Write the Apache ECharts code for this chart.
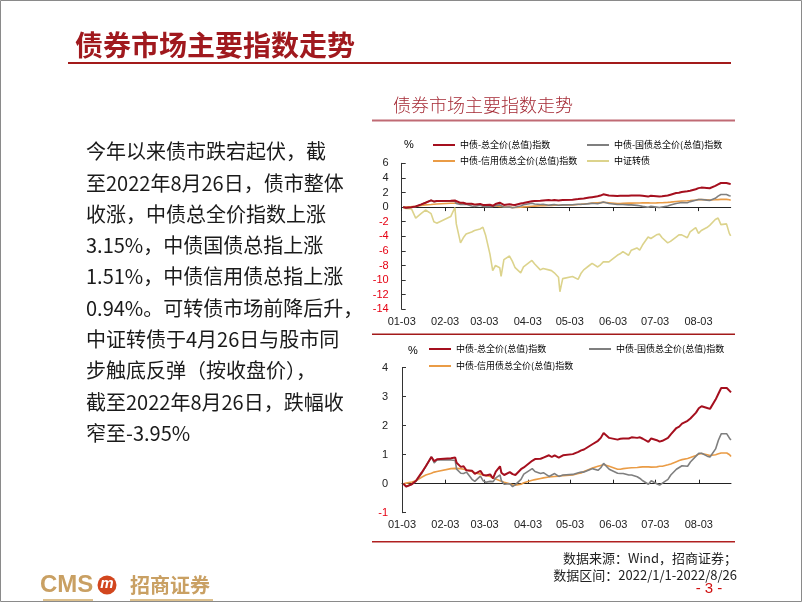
<!DOCTYPE html>
<html><head><meta charset="utf-8">
<script src="https://cdn.jsdelivr.net/npm/echarts@6/dist/echarts.min.js"></script>
<style>html,body{margin:0;padding:0;background:#fff}#c{width:802px;height:602px}</style>
</head><body><div id="c"></div>
<script>
// ---------- data ----------
const dates = [
 '01-04','01-06','01-10','01-13','01-17','01-20','01-24','01-26','01-28',
 '02-07','02-10','02-11','02-14','02-16','02-18','02-22','02-24','02-28',
 '03-02','03-04','03-07','03-09','03-11','03-14','03-15','03-17','03-21','03-23','03-25','03-29','03-31',
 '04-06','04-08','04-12','04-14','04-18','04-20','04-22','04-25','04-26','04-28',
 '05-05','05-09','05-11','05-13','05-17','05-19','05-23','05-25','05-27','05-31',
 '06-06','06-08','06-10','06-14','06-16','06-20','06-22','06-24','06-28','06-30',
 '07-04','07-06','07-08','07-12','07-14','07-18','07-20','07-22','07-26','07-28',
 '08-01','08-03','08-05','08-09','08-11','08-15','08-17','08-19','08-23','08-25','08-26'
];
// 中债-总全价(总值)指数
const totalIdx = [
 0.0,-0.1,-0.02,0.1,0.38,0.6,0.92,0.78,0.84,
 0.88,0.9,0.72,0.58,0.6,0.46,0.45,0.34,0.44,
 0.3,0.28,0.32,0.18,0.42,0.6,0.38,0.3,0.4,0.33,0.3,0.5,0.56,
 0.79,0.85,0.86,0.9,0.98,0.92,0.98,0.9,0.92,0.98,
 1.02,1.1,1.15,1.18,1.3,1.36,1.48,1.58,1.75,1.58,
 1.52,1.55,1.56,1.56,1.6,1.58,1.6,1.55,1.44,1.56,
 1.5,1.45,1.48,1.58,1.7,1.92,1.97,2.07,2.17,2.25,
 2.45,2.6,2.67,2.61,2.58,2.9,3.1,3.3,3.3,3.2,3.15
];
// 中债-国债总全价(总值)指数
const govIdx = [
 0.0,-0.1,-0.02,0.08,0.35,0.6,0.93,0.72,0.82,
 0.82,0.8,0.5,0.36,0.35,0.4,0.15,0.08,0.26,
 0.1,0.05,0.08,0.07,0.2,0.3,0.1,-0.02,0.0,-0.1,-0.03,0.15,0.33,
 0.52,0.42,0.35,0.38,0.25,0.3,0.35,0.25,0.24,0.3,
 0.32,0.38,0.4,0.4,0.48,0.52,0.46,0.55,0.7,0.5,
 0.36,0.35,0.35,0.3,0.3,0.24,0.18,0.1,-0.02,0.1,
 0.0,-0.05,0.02,0.15,0.3,0.5,0.56,0.62,0.6,0.75,
 0.95,1.05,1.05,0.95,0.92,1.2,1.5,1.72,1.72,1.56,1.51
];
// 中债-信用债总全价(总值)指数
const creditIdx = [
 0.0,0.02,0.06,0.1,0.22,0.3,0.36,0.4,0.42,
 0.52,0.53,0.53,0.52,0.5,0.47,0.42,0.38,0.33,
 0.3,0.28,0.25,0.2,0.16,0.1,0.08,0.05,0.0,-0.04,-0.05,-0.02,0.03,
 0.12,0.14,0.18,0.2,0.23,0.24,0.25,0.26,0.26,0.28,
 0.3,0.35,0.37,0.42,0.5,0.54,0.6,0.63,0.66,0.6,
 0.5,0.5,0.52,0.54,0.55,0.56,0.57,0.58,0.58,0.57,
 0.58,0.6,0.6,0.65,0.68,0.76,0.8,0.83,0.87,0.9,
 0.97,1.02,1.04,1.0,0.97,1.0,1.03,1.06,1.06,1.0,0.94
];
// 中证转债
const cbIdx = [
 -0.1,-0.2,-0.25,-1.5,-0.85,-0.4,-0.9,-2.0,-2.2,
 -1.3,-0.05,-2.3,-4.9,-4.2,-3.7,-3.4,-3.2,-3.0,
 -2.75,-3.9,-6.4,-8.7,-8.0,-8.3,-9.5,-7.2,-6.7,-7.4,-8.3,-9.0,-8.2,
 -7.3,-7.8,-8.6,-8.4,-8.6,-8.7,-9.0,-9.6,-11.6,-9.8,
 -9.5,-9.9,-9.1,-8.6,-8.0,-7.7,-8.2,-7.9,-7.5,-7.5,
 -6.6,-6.4,-6.1,-6.6,-5.9,-5.6,-5.9,-5.2,-4.1,-4.3,
 -3.8,-3.7,-4.2,-4.9,-4.7,-4.1,-3.8,-3.8,-4.2,-3.4,
 -2.8,-3.6,-3.2,-2.8,-2.5,-1.7,-1.5,-2.4,-2.3,-3.6,-3.95
];
const xTickLabels = ['01-03','02-03','03-03','04-03','05-03','06-03','07-03','08-03'];
const names = ['中债-总全价(总值)指数','中债-国债总全价(总值)指数','中债-信用债总全价(总值)指数','中证转债'];
const colors = ['#A50F1E','#7F7F7F','#EA9C46','#DCD38C'];

// calendar-day category axis (01-03 .. 08-26)
const cats = [];
for (let t = Date.UTC(2022,0,3); t <= Date.UTC(2022,7,26); t += 86400000) {
  const d = new Date(t);
  cats.push(String(d.getUTCMonth()+1).padStart(2,'0') + '-' + String(d.getUTCDate()).padStart(2,'0'));
}
const pairs = arr => dates.map((d,i)=>[d, arr[i]]);

const CJK = '"Noto Sans CJK SC", sans-serif';
const LAT = '"Liberation Sans", Arial, sans-serif';
const isTick = (i, v) => xTickLabels.indexOf(v) >= 0;

function xAxes(gridIndex, tickInside) {
  return [
    { type:'category', gridIndex, data:cats, boundaryGap:false,
      axisLine:{ onZero:true, lineStyle:{ color:'#222', width:1 } },
      axisTick:{ show:true, interval:isTick, length:4, inside:tickInside, lineStyle:{ color:'#222' } },
      axisLabel:{ show:false }, splitLine:{ show:false } },
    { type:'category', gridIndex, data:cats, boundaryGap:false, position:'bottom',
      axisLine:{ show:false, onZero:false }, axisTick:{ show:false },
      axisLabel:{ show:true, interval:isTick, margin:7, fontSize:11, fontFamily:LAT, color:'#222' },
      splitLine:{ show:false } }
  ];
}
function yAxis(gridIndex, min, max, interval, margin) {
  return { type:'value', gridIndex, min, max, interval,
    axisLine:{ show:true, lineStyle:{ color:'#333', width:1 } },
    axisTick:{ show:true, inside:true, length:4, lineStyle:{ color:'#333' } },
    splitLine:{ show:false },
    axisLabel:{ margin, fontSize:11, fontFamily:LAT,
      color: v => (v < 0 ? '#E60012' : '#222') } };
}
function line(name, arr, color, xi, yi, w, z) {
  return { type:'line', name, data:pairs(arr), xAxisIndex:xi, yAxisIndex:yi,
    showSymbol:false, symbol:'none', color, lineStyle:{ color, width:w }, z, silent:true };
}
function leg(name, left, top) {
  return { data:[name], left, top, padding:0, itemWidth:22, itemHeight:2, icon:'rect',
    selectedMode:false, textStyle:{ fontSize:9, fontFamily:CJK, color:'#000' } };
}

const chart = echarts.init(document.getElementById('c'), null, { renderer:'canvas' });
chart.setOption({
  animation:false,
  backgroundColor:'#fff',
  grid:[
    { left:401.7, top:163.3, width:329, height:146, containLabel:false },
    { left:402, top:367.7, width:329, height:145, containLabel:false }
  ],
  xAxis:[ ...xAxes(0,false), ...xAxes(1,true) ],
  yAxis:[ yAxis(0,-14,6,2,13), yAxis(1,-1,4,1,14) ],
  legend:[
    leg(names[0],433,140.5), leg(names[1],587,140.5),
    leg(names[2],433,156.5), leg(names[3],587,156.5),
    leg(names[0],429,344.5), leg(names[1],589,344.5),
    leg(names[2],429,361.5)
  ],
  series:[
    line(names[3], cbIdx, colors[3], 0, 0, 1.6, 2),
    line(names[2], creditIdx, colors[2], 0, 0, 1.6, 3),
    line(names[1], govIdx, colors[1], 0, 0, 1.6, 4),
    line(names[0], totalIdx, colors[0], 0, 0, 2, 5),
    line(names[2], creditIdx, colors[2], 2, 1, 1.6, 3),
    line(names[1], govIdx, colors[1], 2, 1, 1.6, 4),
    line(names[0], totalIdx, colors[0], 2, 1, 2, 5)
  ],
  graphic:{ elements:[
    { type:'rect', shape:{ x:0.5, y:0.5, width:801, height:601 }, style:{ fill:null, stroke:'#8a8a8a', lineWidth:1 }, silent:true },
    { type:'text', style:{ text:'债券市场主要指数走势', x:75, y:45, textVerticalAlign:'middle', fill:'#A0191E', font:'bold 28px ' + CJK } },
    { type:'line', shape:{ x1:68, y1:63, x2:731, y2:63 }, style:{ stroke:'#A31A1A', lineWidth:2 } },
    { type:'text', style:{ text:'今年以来债市跌宕起伏，截\n至2022年8月26日，债市整体\n收涨，中债总全价指数上涨\n3.15%，中债国债总指上涨\n1.51%，中债信用债总指上涨\n0.94%。可转债市场前降后升，\n中证转债于4月26日与股市同\n步触底反弹（按收盘价），\n截至2022年8月26日，跌幅收\n窄至-3.95%',
      x:86, y:136, textVerticalAlign:'top', lineHeight:31.3, fill:'#1a1a1a', font:'20px ' + CJK } },
    { type:'text', style:{ text:'债券市场主要指数走势', x:393, y:105, textVerticalAlign:'middle', fill:'#A52A35', font:'300 18px ' + CJK } },
    { type:'line', shape:{ x1:372, y1:120.5, x2:735, y2:120.5 }, style:{ stroke:'#C06A74', lineWidth:2 } },
    { type:'text', style:{ text:'%', x:409, y:145, textAlign:'center', textVerticalAlign:'middle', fill:'#000', font:'11px ' + LAT } },
    { type:'line', shape:{ x1:372, y1:334.3, x2:735, y2:334.3 }, style:{ stroke:'#A31A1A', lineWidth:1.5 } },
    { type:'text', style:{ text:'%', x:413, y:351, textAlign:'center', textVerticalAlign:'middle', fill:'#000', font:'11px ' + LAT } },
    { type:'line', shape:{ x1:372, y1:541.7, x2:735, y2:541.7 }, style:{ stroke:'#B02020', lineWidth:1.5 } },
    { type:'text', style:{ text:'数据来源：Wind，招商证券；', x:737, y:558, textAlign:'right', textVerticalAlign:'middle', fill:'#222', font:'13px ' + CJK } },
    { type:'text', style:{ text:'数据区间：2022/1/1-2022/8/26', x:737, y:575, textAlign:'right', textVerticalAlign:'middle', fill:'#222', font:'13px ' + CJK } },
    { type:'text', style:{ text:'- 3 -', x:709, y:589, textAlign:'center', textVerticalAlign:'middle', fill:'#D01010', font:'15px ' + LAT } },
    { type:'text', style:{ text:'CMS', x:40, y:585, textVerticalAlign:'middle', fill:'#C9A063', font:'bold 24px ' + LAT } },
    { type:'circle', shape:{ cx:107, cy:585, r:9.5 }, style:{ fill:'#D2461E' } },
    { type:'text', style:{ text:'m', x:107, y:584, textAlign:'center', textVerticalAlign:'middle', fill:'#fff', font:'italic bold 15px ' + LAT } },
    { type:'text', style:{ text:'招商证券', x:130, y:585, textVerticalAlign:'middle', fill:'#C9A063', font:'bold 20px ' + CJK } },
    { type:'rect', shape:{ x:43, y:599, width:50, height:2 }, style:{ fill:'#DCC08E' } },
    { type:'rect', shape:{ x:130, y:599, width:83, height:2 }, style:{ fill:'#DCC08E' } }
  ]}
});
</script>
</body></html>
